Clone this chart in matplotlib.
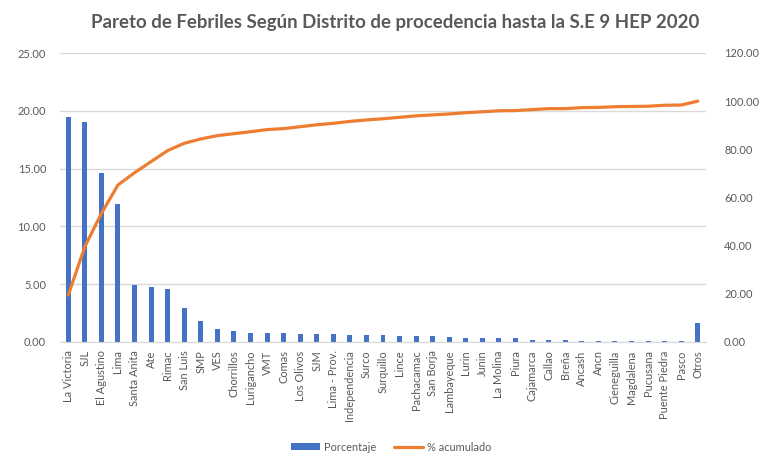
"""
Pareto de febriles por distrito de procedencia (S.E 9 HEP 2020).
"""

import matplotlib
matplotlib.use('Agg')
import matplotlib.pyplot as plt
from matplotlib.ticker import FormatStrFormatter

plt.rcParams['font.family'] = ['Lato', 'DejaVu Sans']

distritos = ['La Victoria', 'SJL', 'El Agustino', 'Lima', 'Santa Anita', 'Ate',
             'Rimac', 'San Luis', 'SMP', 'VES', 'Chorrillos', 'Lurigancho',
             'VMT', 'Comas', 'Los Olivos', 'SJM', 'Lima - Prov.',
             'Independencia', 'Surco', 'Surquillo', 'Lince', 'Pachacamac',
             'San Borja', 'Lambayeque', 'Lurin', 'Junin', 'La Molina', 'Piura',
             'Cajamarca', 'Callao', 'Breña', 'Ancash', 'Ancn', 'Cieneguilla',
             'Magdalena', 'Pucusana', 'Puente Piedra', 'Pasco', 'Otros']

porcentaje = [19.49, 19.02, 14.65, 11.98, 4.93, 4.73, 4.56, 2.91, 1.81, 1.09,
              0.92, 0.81, 0.81, 0.81, 0.72, 0.72, 0.72, 0.60, 0.60, 0.58,
              0.49, 0.49, 0.49, 0.40, 0.32, 0.32, 0.32, 0.32, 0.20, 0.20,
              0.20, 0.12, 0.12, 0.12, 0.12, 0.12, 0.12, 0.12, 1.62]

acumulado = [19.5, 39.6, 53.4, 65.2, 70.3, 74.9, 79.5, 82.5, 84.3, 85.7,
             86.5, 87.3, 88.2, 88.6, 89.4, 90.2, 90.8, 91.6, 92.2, 92.7,
             93.3, 93.9, 94.3, 94.7, 95.2, 95.6, 96.0, 96.1, 96.5, 96.9,
             96.9, 97.3, 97.4, 97.7, 97.8, 97.9, 98.3, 98.4, 100.0]

GRAY = '#595959'
BLUE = '#4472C4'
ORANGE = '#ED7D31'

fig = plt.figure(figsize=(7.6, 4.54), dpi=100)
ax = fig.add_axes([60 / 760, 112 / 454, 646 / 760, 289 / 454])
ax2 = ax.twinx()

x = list(range(len(distritos)))
bars = ax.bar(x, porcentaje, width=0.3, color=BLUE, label='Porcentaje', zorder=2)
line, = ax2.plot(x, acumulado, color=ORANGE, lw=2.3, label='% acumulado',
                 solid_capstyle='round')

ax.set_xlim(-0.5, len(distritos) - 0.5)
ax.set_ylim(0, 25)
ax.set_yticks([0, 5, 10, 15, 20, 25])
ax2.set_ylim(0, 120)
ax2.set_yticks([0, 20, 40, 60, 80, 100, 120])
ax.yaxis.set_major_formatter(FormatStrFormatter('%.2f'))
ax2.yaxis.set_major_formatter(FormatStrFormatter('%.2f'))

ax.set_xticks(x)
ax.set_xticklabels(distritos, rotation=90, fontsize=7.9, color=GRAY)
ax.tick_params(axis='x', length=0, pad=6)
ax.tick_params(axis='y', length=0, labelsize=7.9, labelcolor=GRAY, pad=10)
ax2.tick_params(axis='y', length=0, labelsize=7.9, labelcolor=GRAY, pad=13)

ax.grid(axis='y', color='#D9D9D9', lw=1, zorder=0)
ax.set_axisbelow(True)
for a in (ax, ax2):
    for s in a.spines.values():
        s.set_visible(False)
ax.spines['bottom'].set_visible(True)
ax.spines['bottom'].set_color('#D9D9D9')

fig.suptitle('Pareto de Febriles Según Distrito de procedencia hasta la S.E 9 HEP 2020',
             x=0.52, y=0.97, fontsize=13.4, fontweight='bold', color=GRAY)

fig.legend(handles=[bars, line], loc='center', bbox_to_anchor=(0.515, 0.015),
           ncol=2, frameon=False, fontsize=7.9, labelcolor=GRAY,
           handlelength=2.6, handleheight=0.6, handletextpad=0.4,
           columnspacing=1.6)

fig.savefig('out.png', dpi=100)
